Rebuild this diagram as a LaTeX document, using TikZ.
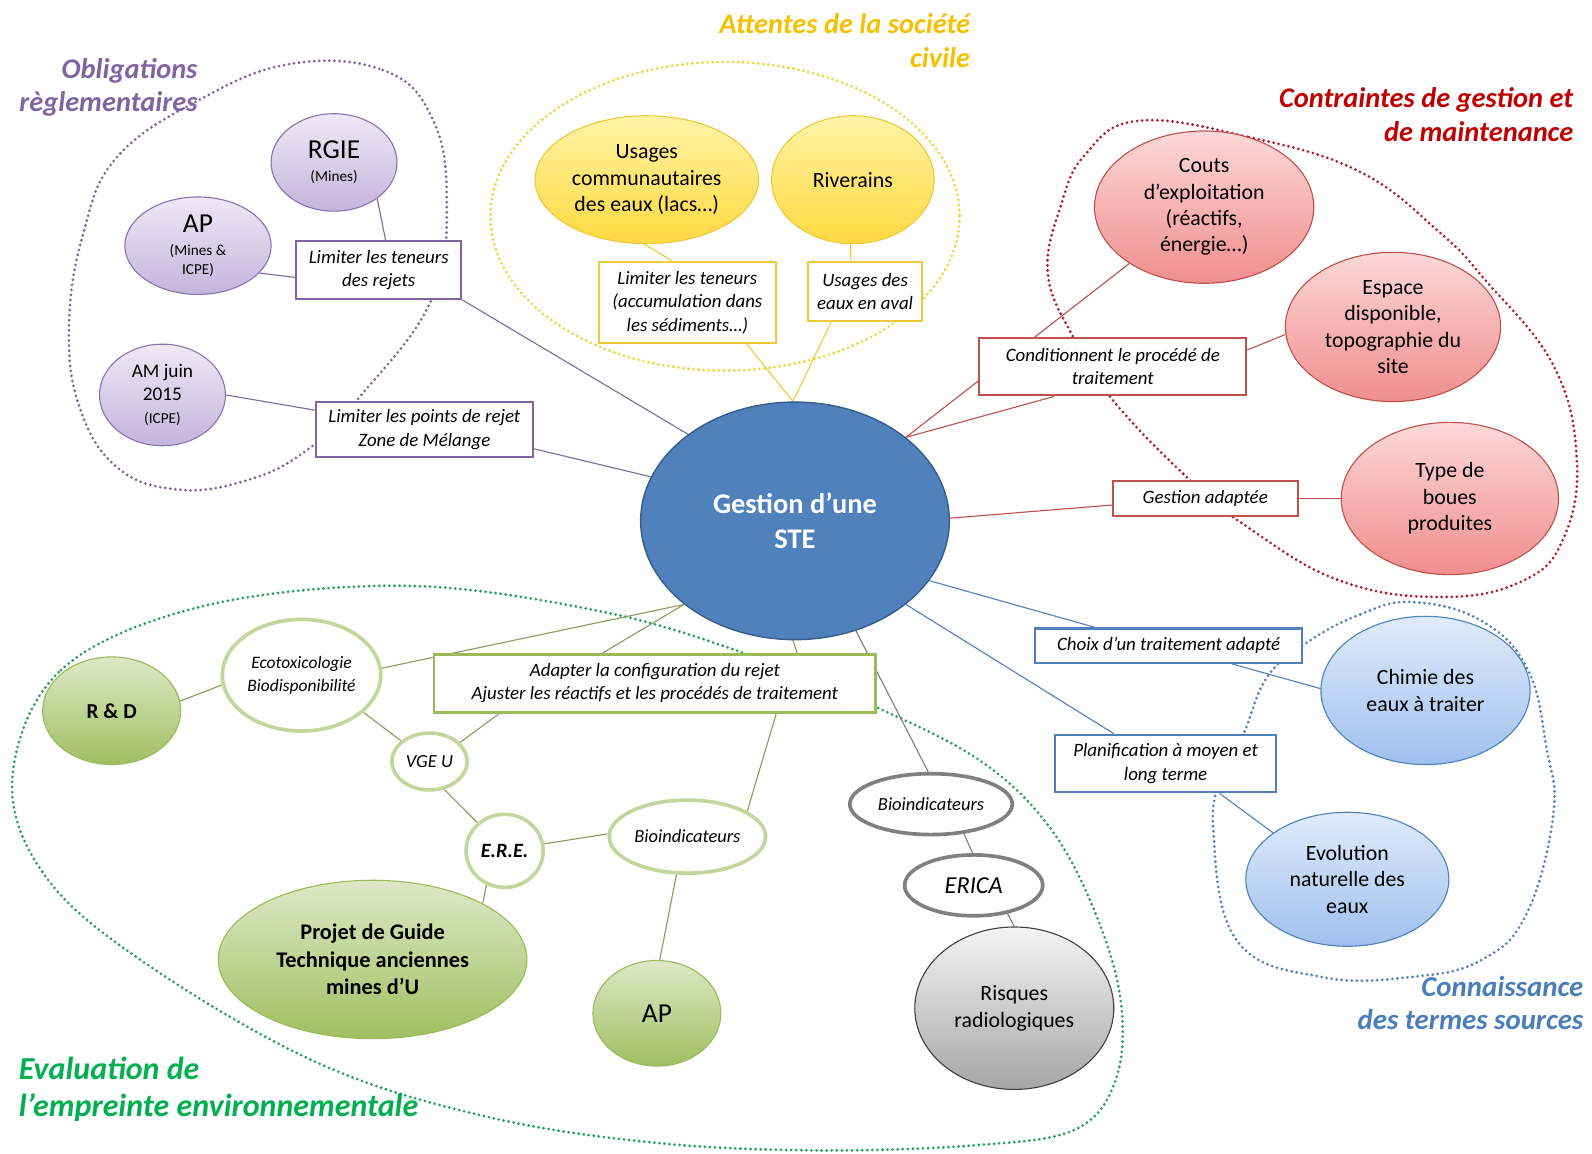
\documentclass[tikz,border=0pt]{standalone}
\usepackage{fontspec}
\setmainfont{Carlito}
\usetikzlibrary{shapes.geometric}

\definecolor{steF}{HTML}{4F81BD}
\definecolor{steL}{HTML}{385D8A}
\definecolor{violetT}{HTML}{8064A2}
\definecolor{violetL}{HTML}{8A74AE}
\definecolor{violetC}{HTML}{7B6C9E}
\definecolor{violetA}{HTML}{EFE9F6}
\definecolor{violetB}{HTML}{C5B4DC}
\definecolor{jauneT}{HTML}{F5C000}
\definecolor{jauneD}{HTML}{F2D230}
\definecolor{jauneL}{HTML}{EEC93A}
\definecolor{jauneA}{HTML}{FFF3A6}
\definecolor{jauneB}{HTML}{FFD940}
\definecolor{rougeT}{HTML}{C00000}
\definecolor{rougeD}{HTML}{B0182E}
\definecolor{rougeL}{HTML}{C0504D}
\definecolor{rougeA}{HTML}{FCD8D8}
\definecolor{rougeB}{HTML}{F08E8E}
\definecolor{bleuT}{HTML}{4A7EBB}
\definecolor{bleuL}{HTML}{4F81BD}
\definecolor{bleuA}{HTML}{E0EBFA}
\definecolor{bleuB}{HTML}{9FC0EE}
\definecolor{vertT}{HTML}{00B050}
\definecolor{vertD}{HTML}{20A060}
\definecolor{vertL}{HTML}{9BBB59}
\definecolor{vertC}{HTML}{8C9A5B}
\definecolor{vertR}{HTML}{C3D69B}
\definecolor{vertA}{HTML}{DDE9C6}
\definecolor{vertB}{HTML}{A0BF62}
\definecolor{grisC}{HTML}{808080}
\definecolor{grisA}{HTML}{F4F4F4}
\definecolor{grisB}{HTML}{A6A6A6}

\pgfdeclarelayer{back}
\pgfsetlayers{back,main}

\newcommand{\fs}[2]{\fontsize{#1}{#2}\selectfont}

\tikzset{
  bulle/.style={ellipse, inner sep=0pt, align=center, line width=1.1pt, font=\fs{21.5}{26}},
  vbulle/.style={bulle, draw=violetL, top color=violetA, bottom color=violetB},
  jbulle/.style={bulle, draw=jauneL, top color=jauneA, bottom color=jauneB},
  rbulle/.style={bulle, draw=rougeL, top color=rougeA, bottom color=rougeB},
  bbulle/.style={bulle, draw=bleuL, top color=bleuA, bottom color=bleuB},
  gbulle/.style={bulle, draw=vertL, top color=vertA, bottom color=vertB},
  cadre/.style={rectangle, fill=white, line width=2pt, inner sep=0pt, align=center, font=\fs{18.6}{23}\itshape},
  vcadre/.style={cadre, draw=violetT},
  jcadre/.style={cadre, draw=jauneL},
  rcadre/.style={cadre, draw=rougeL},
  bcadre/.style={cadre, draw=bleuL},
  gcadre/.style={cadre, draw=vertL, line width=2.6pt},
  anneau/.style={ellipse, fill=white, inner sep=0pt, align=center, line width=3.6pt, font=\fs{18.2}{22}\itshape},
  ganneau/.style={anneau, draw=vertR},
  gris/.style={anneau, draw=grisC},
  groupe/.style={line width=3pt, line cap=round, dash pattern=on 0pt off 5pt},
  lien/.style={line width=1.1pt},
  titre/.style={font=\fs{28}{33}\bfseries\itshape}
}

\begin{document}
\begin{tikzpicture}[x=1pt, y=-1pt]
\useasboundingbox (0,0) rectangle (1568,1136);

% centre
\node[ellipse, minimum width=304pt, minimum height=234pt, inner sep=0pt, align=center,
      fill=steF, draw=steL, line width=1.4pt, text=white,
      font=\fs{28}{34}\bfseries] (ste) at (783,513) {Gestion d’une\\STE};

% obligations reglementaires
\node[vbulle, minimum width=124pt, minimum height=96pt, font=\fs{15}{18}] (rgie) at (329,160)
  {{\fs{27}{30}RGIE}\\[5pt](Mines)};
\node[vbulle, minimum width=144pt, minimum height=96pt, font=\fs{15}{19}] (ap) at (195,242)
  {{\fs{27}{30}AP}\\[4pt](Mines \&\\ICPE)};
\node[vbulle, minimum width=124pt, minimum height=100pt, font=\fs{19}{23}] (am) at (160,389)
  {AM juin\\2015\\{\fs{15}{17}(ICPE)}};
\node[vcadre, minimum width=163pt, minimum height=57pt] (lim1) at (373,266)
  {Limiter les teneurs\\des rejets};
\node[vcadre, minimum width=214pt, minimum height=55pt] (lim2) at (418,423)
  {Limiter les points de rejet\\Zone de Mélange};

% attentes de la societe civile
\node[jbulle, minimum width=220pt, minimum height=126pt] (usages) at (637,177)
  {Usages\\communautaires\\des eaux (lacs…)};
\node[jbulle, minimum width=160pt, minimum height=126pt] (riv) at (840,177) {Riverains};
\node[jcadre, minimum width=175pt, minimum height=80pt] (ylim) at (677,298)
  {Limiter les teneurs\\(accumulation dans\\les sédiments…)};
\node[jcadre, minimum width=113pt, minimum height=58pt] (aval) at (852,287)
  {Usages des\\eaux en aval};

% contraintes de gestion
\node[rbulle, minimum width=216pt, minimum height=150pt] (couts) at (1186,204)
  {Couts\\d’exploitation\\(réactifs,\\énergie…)};
\node[rbulle, minimum width=212pt, minimum height=147pt] (espace) at (1372,322)
  {Espace\\disponible,\\topographie du\\site};
\node[rbulle, minimum width=214pt, minimum height=150pt] (boues) at (1428,491)
  {Type de\\boues\\produites};
\node[rcadre, minimum width=263pt, minimum height=57pt] (condi) at (1096,361)
  {Conditionnent le procédé de\\traitement};
\node[rcadre, minimum width=182pt, minimum height=34pt] (gest) at (1187,491) {Gestion adaptée};

% termes sources
\node[bbulle, minimum width=206pt, minimum height=146pt] (chimie) at (1404,680)
  {Chimie des\\eaux à traiter};
\node[bbulle, minimum width=200pt, minimum height=132pt] (evol) at (1327,866)
  {Evolution\\naturelle des\\eaux};
\node[bcadre, minimum width=263pt, minimum height=34pt] (choix) at (1151,636)
  {Choix d’un traitement adapté};
\node[bcadre, minimum width=217pt, minimum height=57pt] (planif) at (1148,752)
  {Planification à moyen et\\long terme};

% empreinte environnementale
\node[gbulle, minimum width=136pt, minimum height=106pt, font=\fs{21}{26}\bfseries] (rd) at (110,700) {R \& D};
\node[ganneau, minimum width=156pt, minimum height=110pt, font=\fs{17.2}{22}\itshape] (eco) at (297,665)
  {Ecotoxicologie\\Biodisponibilité};
\node[ganneau, minimum width=74pt, minimum height=56pt] (vge) at (423,750) {VGE U};
\node[ganneau, minimum width=76pt, minimum height=72pt, font=\fs{20}{24}\bfseries\itshape] (ere) at (497,838) {E.R.E.};
\node[ganneau, minimum width=154pt, minimum height=72pt] (bio) at (677,824) {Bioindicateurs};
\node[gbulle, minimum width=304pt, minimum height=156pt, font=\fs{22}{27}\bfseries] (projet) at (367,945)
  {Projet de Guide\\Technique anciennes\\mines d’U};
\node[gbulle, minimum width=126pt, minimum height=104pt, font=\fs{27}{30}] (ap2) at (647,998) {AP};
\node[gcadre, minimum width=435pt, minimum height=57pt] (adapt) at (645,673)
  {Adapter la configuration du rejet\\Ajuster les réactifs et les procédés de traitement};

% radiologie
\node[gris, minimum width=160pt, minimum height=60pt] (bioind) at (917,792) {Bioindicateurs};
\node[gris, minimum width=136pt, minimum height=60pt, font=\fs{24}{28}\itshape] (erica) at (959,872) {ERICA};
\node[bulle, draw=black!75, top color=grisA, bottom color=grisB, minimum width=196pt, minimum height=160pt] (risq) at (999,993)
  {Risques\\radiologiques};

% titres
\node[titre, text=violetT, anchor=east, align=right] (tviolet) at (198,86) {Obligations\\règlementaires};
\node[titre, text=jauneT, anchor=east, align=right] (tjaune) at (959,40) {Attentes de la société\\civile};
\node[titre, text=rougeT, anchor=east, align=right] (trouge) at (1553,113) {Contraintes de gestion et\\de maintenance};
\node[titre, text=bleuT, anchor=east, align=right, font=\fs{28.4}{33}\bfseries\itshape] (tbleu) at (1563,988) {Connaissance\\des termes sources};
\node[titre, text=vertT, anchor=west, align=left, font=\fs{31.5}{37}\bfseries\itshape] (tvert) at (15,1073) {Evaluation de\\l’empreinte environnementale};

\begin{pgfonlayer}{back}
  % groupes
  \draw[groupe, violetT] plot[smooth cycle, tension=0.7] coordinates {(286,63) (377,69) (425,115) (440,197) (425,295) (355,390) (300,445) (240,474) (174,482) (115,460) (78,400) (68,320) (82,230) (115,155) (197,98)};
  \draw[groupe, jauneD] (714,213) ellipse [x radius=231, y radius=152];
  \draw[groupe, rougeD] plot[smooth cycle, tension=0.7] coordinates {(1121,119) (1230,135) (1339,169) (1418,229) (1463,276) (1530,360) (1553,452) (1540,530) (1500,572) (1420,588) (1320,572) (1230,520) (1169,470) (1096,394) (1057,332) (1032,269) (1045,202) (1069,152)};
  \draw[groupe, bleuL] plot[smooth cycle, tension=0.7] coordinates {(1287,633) (1340,605) (1392,593) (1460,612) (1505,660) (1523,736) (1530,801) (1504,899) (1460,945) (1392,962) (1300,962) (1218,926) (1195,818) (1205,760) (1225,722) (1248,667)};
  \draw[groupe, vertD] plot[smooth cycle, tension=0.6] coordinates {(12,770) (60,660) (200,597) (400,577) (591,602) (732,643) (864,697) (965,749) (1031,811) (1075,890) (1103,980) (1100,1060) (1060,1112) (960,1128) (800,1133) (640,1125) (480,1100) (320,1050) (160,960) (50,870)};

  % liens
  \draw[lien, violetC] (rgie.-40) -- (lim1.77);
  \draw[lien, violetC] (ap.-24) -- (lim1.185);
  \draw[lien, violetC] (lim1.south east) -- (ste.141);
  \draw[lien, violetC] (am.east) -- (lim2.170);
  \draw[lien, violetC] (lim2.-10) -- (ste.163);

  \draw[lien, jauneL] (usages.268) -- (ylim.110);
  \draw[lien, jauneL] (ylim.-35) -- (ste.91);
  \draw[lien, jauneL] (riv.268) -- (aval.115);
  \draw[lien, jauneL] (aval.-138) -- (ste.91);

  \draw[lien, rougeL] (couts.217) -- (ste.37);
  \draw[lien, rougeL] (condi.207) -- (ste.37);
  \draw[lien, rougeL] (espace.184) -- (condi.7);
  \draw[lien, rougeL] (ste.1) -- (gest.184);
  \draw[lien, rougeL] (gest.east) -- (boues.west);

  \draw[lien, bleuL] (ste.-24) -- (choix.166);
  \draw[lien, bleuL] (choix.-16) -- (chimie.179);
  \draw[lien, bleuL] (ste.-37) -- (planif.150);
  \draw[lien, bleuL] (planif.-29) -- (evol.148);

  \draw[lien, vertC] (ste.217) -- (eco.5);
  \draw[lien, vertC] (ste.217) -- (adapt.150);
  \draw[lien, vertC] (ste.-91) -- (adapt.12);
  \draw[lien, vertC] (rd.8) -- (eco.187);
  \draw[lien, vertC] (eco.-31) -- (vge.144);
  \draw[lien, vertC] (vge.32) -- (adapt.191);
  \draw[lien, vertC] (vge.-62) -- (ere.134);
  \draw[lien, vertC] (ere.10) -- (bio.178);
  \draw[lien, vertC] (ere.242) -- (projet.27);
  \draw[lien, vertC] (bio.254) -- (ap2.87);
  \draw[lien, vertC] (bio.23) -- (adapt.-14);

  \draw[lien, grisC] (ste.-61) -- (bioind.95);
  \draw[lien, grisC] (bioind.-42) -- (erica.92);
  \draw[lien, grisC] (erica.-40) -- (risq.90);
\end{pgfonlayer}
\end{tikzpicture}
\end{document}
